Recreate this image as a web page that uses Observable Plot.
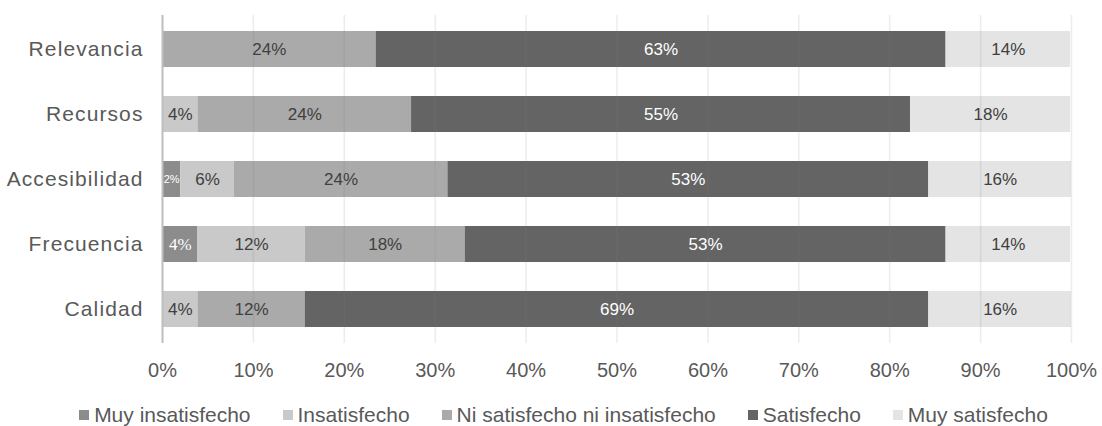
<!DOCTYPE html>
<html>
<head>
<meta charset="utf-8">
<script src="https://cdn.jsdelivr.net/npm/d3@7"></script>
<script src="https://cdn.jsdelivr.net/npm/@observablehq/plot@0.6"></script>
<style>
  html, body { margin: 0; padding: 0; background: #fff; }
  #chart { width: 1102px; }
  .legend { display: flex; justify-content: center; align-items: center; gap: 32px;
    font-family: "Liberation Sans", Arial, sans-serif; font-size: 21px; color: #595959;
    padding-top: 13px; padding-left: 25px; }
  .legend span.item { display: inline-flex; align-items: center; white-space: nowrap; }
  .legend i { display: inline-block; width: 10px; height: 10px; margin-right: 5px; }
</style>
</head>
<body>
<div id="chart"></div>
<script>
const categories = ["Relevancia", "Recursos", "Accesibilidad", "Frecuencia", "Calidad"];
const levels = ["Muy insatisfecho", "Insatisfecho", "Ni satisfecho ni insatisfecho", "Satisfecho", "Muy satisfecho"];
const levelColors = ["#8c8c8c", "#c9c9c9", "#aaaaaa", "#646464", "#e4e4e4"];
const muyInsatisfecho = [0, 0, 2.0, 3.9, 0];
const insatisfecho = [0, 3.9, 5.9, 11.8, 3.9];
const niSatisfecho = [23.5, 23.5, 23.5, 17.6, 11.8];
const satisfecho = [62.7, 54.9, 52.9, 52.9, 68.6];
const muySatisfecho = [13.7, 17.6, 15.7, 13.7, 15.7];
const xTicks = [0, 10, 20, 30, 40, 50, 60, 70, 80, 90, 100];

const series = [muyInsatisfecho, insatisfecho, niSatisfecho, satisfecho, muySatisfecho];
const data = [];
categories.forEach((c, i) => {
  levels.forEach((l, j) => data.push({category: c, level: l, value: series[j][i]}));
});
const lab = d => Math.round(d.value) + "%";
const darkLab = d => (d.value > 0 && d.level !== "Muy insatisfecho" && d.level !== "Satisfecho") ? lab(d) : null;
const satLab = d => (d.value > 0 && d.level === "Satisfecho") ? lab(d) : null;
const muyInsLab = d => (d.value >= 3 && d.level === "Muy insatisfecho") ? lab(d) : null;
const smallLab = d => (d.value > 0 && d.value < 3 && d.level === "Muy insatisfecho") ? lab(d) : null;

const stackOpts = {x: "value", y: "category", z: "level", order: levels};

const plot = Plot.plot({
  width: 1102,
  height: 390,
  marginLeft: 162,
  marginRight: 31,
  marginTop: 15,
  marginBottom: 47,
  style: {fontFamily: "'Liberation Sans', Arial, sans-serif", color: "#595959", background: "#fff"},
  x: {domain: [0, 100]},
  y: {domain: categories, paddingInner: 0.44, paddingOuter: 0.22},
  color: {domain: levels, range: levelColors},
  marks: [
    Plot.barX(data, Plot.stackX({...stackOpts, fill: "level"})),
    Plot.gridX(xTicks, {stroke: "#808080", strokeOpacity: 0.15, strokeWidth: 1.5}),
    Plot.textX(data, Plot.stackX({...stackOpts, text: darkLab, fill: "#404040", fontSize: 17})),
    Plot.textX(data, Plot.stackX({...stackOpts, text: satLab, fill: "#ffffff", fontSize: 17})),
    Plot.textX(data, Plot.stackX({...stackOpts, text: muyInsLab, fill: "#ffffff", fontSize: 17,
      fontFamily: "'Liberation Serif', 'DejaVu Serif', serif"})),
    Plot.textX(data, Plot.stackX({...stackOpts, text: smallLab, fill: "#ffffff", fontSize: 11})),
    Plot.ruleX([0], {stroke: "#bfbfbf", strokeWidth: 2}),
    Plot.axisX({ticks: xTicks, tickSize: 0, tickPadding: 19, fontSize: 20, tickFormat: d => d + "%", label: null}),
    Plot.axisY({tickSize: 0, tickPadding: 19, fontSize: 21, label: null})
  ]
});
document.getElementById("chart").appendChild(plot);

// the reference's category labels are set wide
const yLab = plot.querySelector('g[aria-label="y-axis tick label"]');
if (yLab) yLab.style.letterSpacing = "1.1px";

const legend = document.createElement("div");
legend.className = "legend";
levels.forEach((l, i) => {
  const item = document.createElement("span");
  item.className = "item";
  const sw = document.createElement("i");
  sw.style.background = levelColors[i];
  item.appendChild(sw);
  item.appendChild(document.createTextNode(l));
  legend.appendChild(item);
});
document.getElementById("chart").appendChild(legend);
</script>
</body>
</html>
